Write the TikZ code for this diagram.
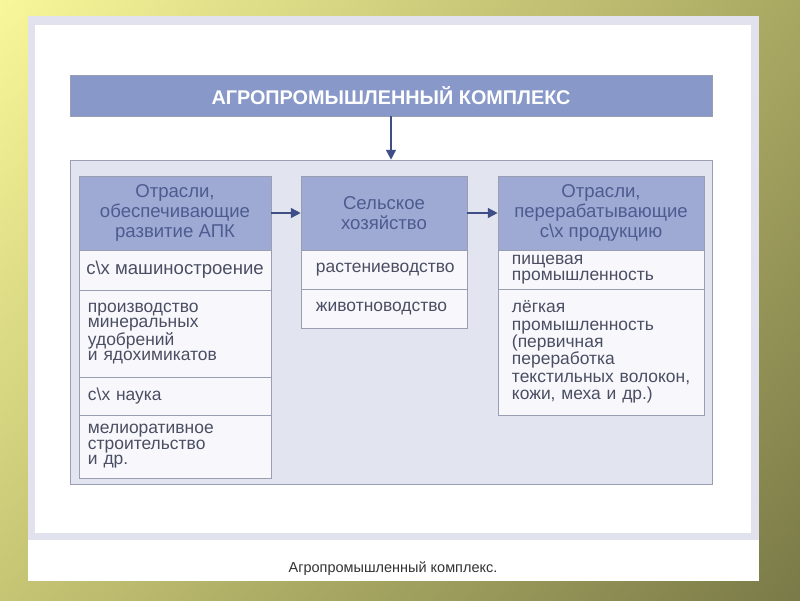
\documentclass[tikz,border=0pt]{standalone}
\usepackage{fontspec}
\setmainfont{Liberation Sans}
\usepackage{xcolor}
\usetikzlibrary{arrows.meta, shadings}
\definecolor{bgtl}{HTML}{F8F79A}
\definecolor{bgtr}{HTML}{A9A862}
\definecolor{bgbl}{HTML}{C6C574}
\definecolor{bgbr}{HTML}{7A7A48}
\definecolor{framegray}{HTML}{E1E2EE}
\definecolor{titleblue}{HTML}{8798C9}
\definecolor{headblue}{HTML}{9EA9D4}
\definecolor{headtext}{HTML}{4E5B8F}
\definecolor{boxgray}{HTML}{E2E5EF}
\definecolor{cellwhite}{HTML}{F8F8FC}
\definecolor{edgegray}{HTML}{9A9EB2}
\definecolor{celltext}{HTML}{4A4E62}
\definecolor{arrowblue}{HTML}{3F4E86}

\begin{document}
\begin{tikzpicture}[x=0.025cm, y=-0.025cm]
    % Styles
    \tikzstyle{title} = [draw=edgegray, fill=titleblue, text=white, minimum width=16.05cm, minimum height=1.025cm, inner sep=0pt, font=\fontsize{14.1}{15}\selectfont\bfseries]
    \tikzstyle{container} = [draw=edgegray, fill=boxgray, minimum width=16.05cm, minimum height=8.1cm, inner sep=0pt]
    \tikzstyle{head} = [draw=edgegray, fill=headblue, text=headtext, minimum height=1.85cm, inner sep=0pt, align=center, font=\fontsize{13.2}{14.5}\selectfont]
    \tikzstyle{cell} = [draw=edgegray, fill=cellwhite, text=celltext, inner ysep=0pt, align=left, font=\fontsize{12.4}{11}\selectfont]
    \tikzstyle{arrow} = [draw=arrowblue, line width=1.1pt, -{Triangle[length=7pt, width=7pt]}]
    \tikzstyle{caption} = [text=black!80, font=\fontsize{10.3}{12}\selectfont]

    \useasboundingbox (0,0) rectangle (800,600);

    % Background and slide
    \shade[upper left=bgtl, upper right=bgtr, lower left=bgbl, lower right=bgbr] (0,0) rectangle (800,600);
    \fill[white] (28,16) rectangle (759,581);
    \fill[framegray] (28,16) rectangle (759,540);
    \fill[white] (35,25) rectangle (751,533);

    % Title and container
    \node[title] (apk) at (391,95.5) {АГРОПРОМЫШЛЕННЫЙ КОМПЛЕКС};
    \node[container] (branches) at (391,322) {};

    % Headers
    \node[head, minimum width=4.8cm] (supply) at (175,213) {Отрасли,\\обеспечивающие\\развитие АПК};
    \node[head, minimum width=4.15cm] (agri) at (384,213) {Сельское\\хозяйство};
    \node[head, minimum width=5.15cm] (process) at (601,213) {Отрасли,\\перерабатывающие\\с\textbackslash х продукцию};

    % Column 1: supplying branches
    \node[cell, align=center, minimum width=4.8cm, minimum height=1cm, inner xsep=0pt, font=\fontsize{13.2}{11}\selectfont] (mach) at (175,270) {с\textbackslash х машиностроение};
    \node[cell, text width=4.35cm, inner xsep=0.225cm, minimum height=2.175cm, font=\fontsize{12.4}{10.7}\selectfont] (fert) at (175,333.5) {производство\\минеральных\\удобрений\\и ядохимикатов};
    \node[cell, text width=4.35cm, inner xsep=0.225cm, minimum height=0.95cm] (sci) at (175,396) {с\textbackslash х наука};
    \node[cell, text width=4.35cm, inner xsep=0.225cm, minimum height=1.575cm] (melio) at (175,446.5) {мелиоративное\\строительство\\и др.};

    % Column 2: agriculture
    \node[cell, text width=3.4cm, inner xsep=0.375cm, minimum height=0.975cm] (crop) at (384,269.5) {растениеводство};
    \node[cell, text width=3.4cm, inner xsep=0.375cm, minimum height=0.975cm] (stock) at (384,308.5) {животноводство};

    % Column 3: processing branches
    \node[cell, text width=4.45cm, inner xsep=0.35cm, minimum height=0.975cm] (food) at (601,269.5) {пищевая\\промышленность};
    \node[cell, text width=4.45cm, inner xsep=0.35cm, minimum height=3.15cm, font=\fontsize{12.4}{12.3}\selectfont] (light) at (601,352) {лёгкая\\промышленность\\(первичная\\переработка\\текстильных~волокон,\\кожи, меха и др.)};

    % Arrows
    \draw[arrow] (apk) -- (branches);
    \draw[arrow] (supply) -- (agri);
    \draw[arrow] (agri) -- (process);

    % Caption
    \node[caption] (cap) at (393,569) {Агропромышленный комплекс.};
\end{tikzpicture}
\end{document}
